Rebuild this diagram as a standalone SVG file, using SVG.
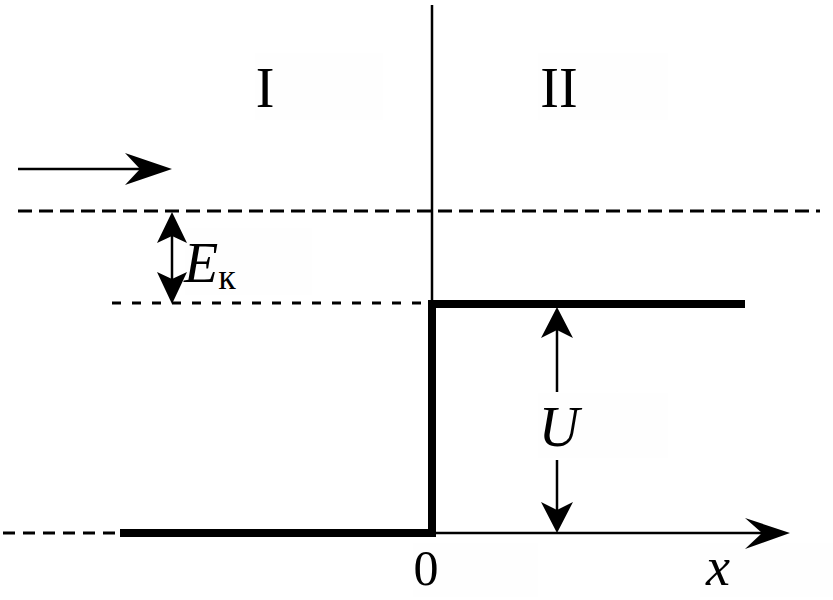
<svg xmlns="http://www.w3.org/2000/svg" width="833" height="600" viewBox="0 0 833 600">
<defs>
<style>
.bg{fill:#fefefe;stroke:none}
.t{font-family:"Liberation Serif","Times New Roman",serif;fill:#000}
.it{font-style:italic}
.dash{stroke:#000;stroke-width:3;fill:none}
.thin{stroke:#000;stroke-width:2.5;fill:none}
.thick{stroke:#000;stroke-width:8;fill:none;stroke-linejoin:miter}
.head{fill:#000;stroke:none}
</style>
</defs>
<rect width="833" height="600" fill="#fff"/>
<g id="label-bgs">
<rect class="bg" x="255" y="53" width="128" height="67"/>
<rect class="bg" x="538" y="53" width="130" height="67"/>
<rect class="bg" x="185" y="228" width="127" height="67"/>
<rect class="bg" x="538" y="393" width="130" height="65"/>
<rect class="bg" x="413" y="543" width="125" height="54"/>
<rect class="bg" x="700" y="543" width="133" height="54"/>
</g>
<g id="connectors">
<line class="dash" stroke-dasharray="14 7" x1="18" y1="211" x2="820" y2="211"/>
<line class="dash" stroke-dasharray="9 11" x1="112" y1="303" x2="432" y2="303"/>
<line class="dash" stroke-dasharray="12 8" x1="3" y1="533" x2="120" y2="533"/>
<line class="thin" x1="432" y1="5" x2="432" y2="533"/>
<line class="thin" x1="432" y1="533" x2="765" y2="533"/>
<path class="head" d="M790,533 L745,518 L762,533 L745,549 Z"/>
<line class="thin" x1="18" y1="169" x2="145" y2="169"/>
<path class="head" d="M172,169 L125,153 L140,169 L125,185 Z"/>
<line class="thin" x1="172" y1="230" x2="172" y2="290"/>
<path class="head" d="M172,212 L157,243 L172,236 L187,243 Z"/>
<path class="head" d="M172,304 L157,272 L172,279 L187,272 Z"/>
<line class="thin" x1="557" y1="325" x2="557" y2="392"/>
<line class="thin" x1="557" y1="460" x2="557" y2="515"/>
<path class="head" d="M557,307 L541,338 L557,330 L573,338 Z"/>
<path class="head" d="M557,533 L541,502 L557,510 L573,502 Z"/>
<path class="thick" d="M120,533 H432 V304 H745"/>
</g>
<g id="region-I"><text class="t" x="265" y="107" font-size="56" text-anchor="middle">I</text></g>
<g id="region-II"><text class="t" x="559" y="107" font-size="56" text-anchor="middle">II</text></g>
<g id="label-Ek"><text class="t" x="184" y="282" font-size="56"><tspan class="it">E</tspan><tspan font-size="36" dy="7">к</tspan></text></g>
<g id="label-U"><text class="t it" x="559" y="446" font-size="56" text-anchor="middle">U</text></g>
<g id="label-0"><text class="t" x="426" y="585" font-size="50" text-anchor="middle">0</text></g>
<g id="label-x"><text class="t it" x="718" y="585" font-size="54" text-anchor="middle">x</text></g>
</svg>
